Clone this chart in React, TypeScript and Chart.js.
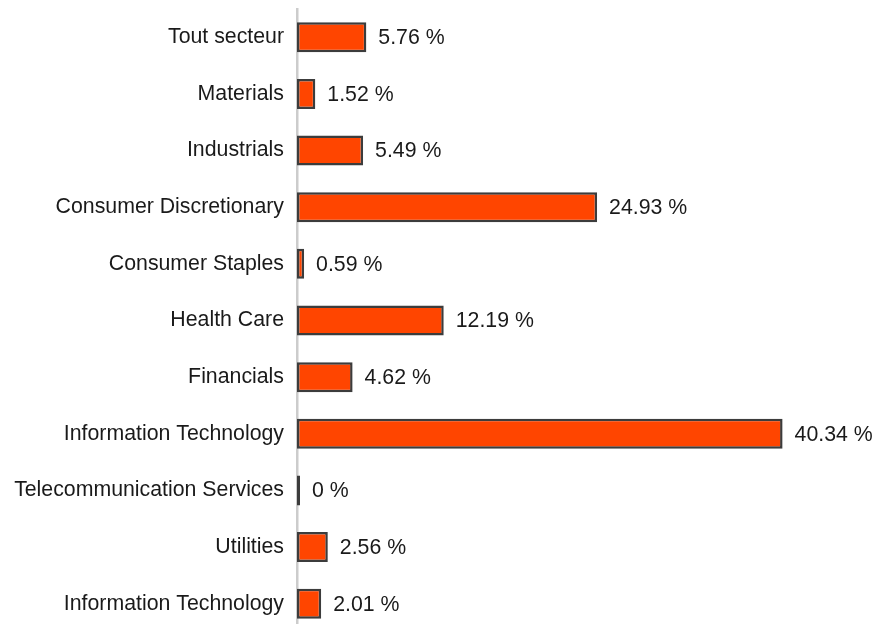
import React, { useEffect, useRef } from "react";
import { Chart, registerables } from "chart.js";

Chart.register(...registerables);

const categories = [
  "Tout secteur",
  "Materials",
  "Industrials",
  "Consumer Discretionary",
  "Consumer Staples",
  "Health Care",
  "Financials",
  "Information Technology",
  "Telecommunication Services",
  "Utilities",
  "Information Technology",
];

const values = [5.76, 1.52, 5.49, 24.93, 0.59, 12.19, 4.62, 40.34, 0, 2.56, 2.01];

const FONT = '"Liberation Sans", Arial, Helvetica, sans-serif';

const valueLabels = {
  id: "valueLabels",
  afterDatasetsDraw(chart: any) {
    const ctx = chart.ctx;
    const meta = chart.getDatasetMeta(0);
    ctx.save();
    ctx.font = `21.3px ${FONT}`;
    ctx.fillStyle = "#1a1a1a";
    ctx.textAlign = "left";
    ctx.textBaseline = "middle";
    meta.data.forEach((bar: any, i: number) => {
      const v = chart.data.datasets[0].data[i];
      ctx.fillText(`${v} %`, bar.x + 12, bar.y + 1);
    });
    ctx.restore();
  },
};

export default function App() {
  const ref = useRef<HTMLCanvasElement>(null);

  useEffect(() => {
    if (!ref.current) return;
    const chart = new Chart(ref.current, {
      type: "bar",
      data: {
        labels: categories,
        datasets: [
          {
            data: values,
            backgroundColor: "#FF4500",
            borderColor: "#3c3c3c",
            borderWidth: 2.5,
            borderSkipped: false,
            barPercentage: 0.53,
            categoryPercentage: 1,
            minBarLength: 3,
          },
        ],
      },
      options: {
        indexAxis: "y",
        responsive: false,
        animation: false,
        layout: { padding: { top: 9, bottom: 8, left: 0, right: 0 } },
        plugins: {
          legend: { display: false },
          tooltip: { enabled: false },
        },
        scales: {
          x: {
            display: false,
            min: 0,
            max: 48.1,
          },
          y: {
            afterFit: (scale: any) => {
              scale.width = 297;
              scale.paddingTop = 0;
              scale.paddingBottom = 0;
            },
            grid: { display: false, drawTicks: false },
            border: { display: true, color: "#cccccc", width: 2.5 },
            ticks: {
              padding: 13,
              color: "#1a1a1a",
              font: { family: FONT, size: 21.3 },
            },
          },
        },
      },
      plugins: [valueLabels],
    });
    return () => chart.destroy();
  }, []);

  return (
    <div style={{ position: "fixed", top: 0, left: 0, width: 876, height: 640, background: "#fff" }}>
      <canvas ref={ref} width={876} height={640} style={{ display: "block" }} />
    </div>
  );
}
